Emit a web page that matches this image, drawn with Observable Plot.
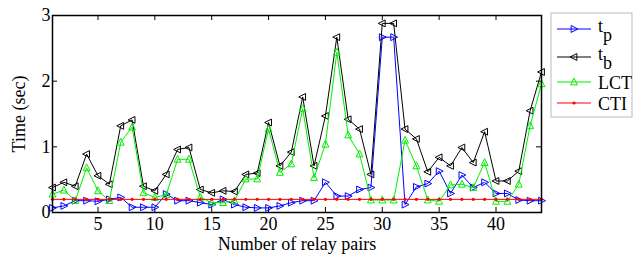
<!DOCTYPE html>
<html>
<head>
<meta charset="utf-8">
<script src="https://cdn.jsdelivr.net/npm/d3@7"></script>
<script src="https://cdn.jsdelivr.net/npm/@observablehq/plot@0.6"></script>
<style>
  html, body { margin: 0; padding: 0; background: #fff; }
  #wrap { position: relative; width: 642px; height: 257px; }
  #wrap svg { position: absolute; left: 0; top: 0; }
  #wrap svg, #wrap svg text { font-family: "Liberation Serif", "DejaVu Serif", serif !important; }
</style>
</head>
<body>
<div id="wrap"></div>
<script>
// ---- data ----
const relayPairs = d3.range(1, 45);
const tp = [0.07,0.10,0.18,0.18,0.17,0.20,0.23,0.08,0.08,0.08,0.28,0.18,0.18,0.15,0.12,0.20,0.12,0.08,0.07,0.07,0.10,0.15,0.18,0.18,0.46,0.25,0.25,0.35,0.38,2.67,2.67,0.12,0.39,0.44,0.63,0.29,0.57,0.38,0.46,0.29,0.29,0.19,0.18,0.18];
const tb = [0.38,0.46,0.40,0.89,0.56,0.43,1.32,1.41,0.40,0.33,0.58,0.96,0.99,0.35,0.30,0.33,0.32,0.58,0.60,1.37,0.71,0.92,1.76,0.71,1.47,2.67,1.42,1.27,0.58,2.88,2.88,1.27,1.12,0.62,0.84,0.71,0.99,0.76,1.23,0.48,0.48,0.63,1.55,2.14];
const lct = [0.28,0.34,0.18,0.68,0.33,0.18,1.07,1.30,0.30,0.23,0.27,0.81,0.81,0.23,0.15,0.15,0.18,0.51,0.51,1.27,0.61,0.74,1.58,0.53,1.04,2.44,1.18,0.89,0.19,0.19,0.19,1.10,0.71,0.19,0.17,0.42,0.43,0.38,0.76,0.17,0.17,0.43,1.32,1.96];
const cti = relayPairs.map(() => 0.2);
const xTicks = [5,10,15,20,25,30,35,40];
const yTicks = [0,1,2,3];
const seriesNames = ["tp","tb","LCT","CTI"];
const seriesColors = ["#0000ff","#000000","#00ee00","#ff0000"];

// custom triangle symbols
const triRight = {draw(ctx, size){ const r = Math.sqrt(size/Math.PI); ctx.moveTo(r*1.1,0); ctx.lineTo(-r*0.8,-r*0.95); ctx.lineTo(-r*0.8,r*0.95); ctx.closePath(); }};
const triLeft  = {draw(ctx, size){ const r = Math.sqrt(size/Math.PI); ctx.moveTo(-r*1.1,0); ctx.lineTo(r*0.8,-r*0.95); ctx.lineTo(r*0.8,r*0.95); ctx.closePath(); }};
const triUp    = {draw(ctx, size){ const r = Math.sqrt(size/Math.PI); ctx.moveTo(0,-r*1.1); ctx.lineTo(-r*0.95,r*0.8); ctx.lineTo(r*0.95,r*0.8); ctx.closePath(); }};

const rows = (vals) => relayPairs.map((x,i) => ({x, y: vals[i]}));
const W = 642, H = 257, mL = 52, mR = 101, mT = 15, mB = 45;
const innerW = W - mL - mR, innerH = H - mT - mB;
const font = "Liberation Serif";

const chart = Plot.plot({
  width: W, height: H,
  marginLeft: mL, marginRight: mR, marginTop: mT, marginBottom: mB,
  style: {fontFamily: font, fontSize: "17px", color: "#000", background: "transparent"},
  x: {domain: [1,44]},
  y: {domain: [0,3]},
  marks: [
    Plot.axisX({ticks: xTicks, tickSize: 0, tickPadding: 5, fontSize: 18, fontFamily: font, tickFormat: d3.format("d"),
      label: "Number of relay pairs", labelAnchor: "center", labelOffset: 37, labelArrow: "none"}),
    Plot.axisY({ticks: yTicks, tickSize: 0, tickPadding: 2, fontSize: 18, fontFamily: font, tickFormat: d3.format("d"),
      label: "Time (sec)", labelAnchor: "center", labelOffset: 40, labelArrow: "none"}),
    Plot.tickX(xTicks, {x: d => d, insetTop: innerH - 5, stroke: "#000"}),
    Plot.tickX(xTicks, {x: d => d, insetBottom: innerH - 5, stroke: "#000"}),
    Plot.tickY(yTicks, {y: d => d, insetRight: innerW - 5, stroke: "#000"}),
    Plot.tickY(yTicks, {y: d => d, insetLeft: innerW - 5, stroke: "#000"}),
    Plot.line(rows(tp), {x: "x", y: "y", stroke: seriesColors[0], strokeWidth: 1}),
    Plot.dot(rows(tp), {x: "x", y: "y", symbol: triRight, r: 3.6, stroke: seriesColors[0], fill: "none", strokeWidth: 1}),
    Plot.line(rows(tb), {x: "x", y: "y", stroke: seriesColors[1], strokeWidth: 1}),
    Plot.dot(rows(tb), {x: "x", y: "y", symbol: triLeft, r: 3.6, stroke: seriesColors[1], fill: "none", strokeWidth: 1}),
    Plot.line(rows(lct), {x: "x", y: "y", stroke: seriesColors[2], strokeWidth: 1}),
    Plot.dot(rows(lct), {x: "x", y: "y", symbol: triUp, r: 3.6, stroke: seriesColors[2], fill: "none", strokeWidth: 1}),
    Plot.line(rows(cti), {x: "x", y: "y", stroke: seriesColors[3], strokeWidth: 1}),
    Plot.dot(rows(cti), {x: "x", y: "y", r: 1.6, fill: seriesColors[3]}),
    Plot.frame({stroke: "#000", strokeWidth: 1.5})
  ]
});
document.getElementById("wrap").appendChild(chart);

// ---- legend (overlay svg) ----
const lg = d3.select("#wrap").append("svg").attr("width", W).attr("height", H)
  .style("pointer-events", "none");
lg.append("rect").attr("x", 551).attr("y", 13).attr("width", 81).attr("height", 104)
  .attr("fill", "#fff").attr("stroke", "#bbb").attr("stroke-width", 1);
const legendY = [29, 57, 82, 103];
const syms = [triRight, triLeft, triUp, null];
seriesNames.forEach((name, i) => {
  const g = lg.append("g");
  g.append("line").attr("x1", 557).attr("x2", 591).attr("y1", legendY[i]).attr("y2", legendY[i])
    .attr("stroke", seriesColors[i]).attr("stroke-width", 1);
  if (syms[i]) {
    g.append("path").attr("d", d3.symbol(syms[i], 3.6*3.6*Math.PI)())
      .attr("transform", `translate(574,${legendY[i]})`).attr("fill", "none").attr("stroke", seriesColors[i]);
  } else {
    g.append("circle").attr("cx", 574).attr("cy", legendY[i]).attr("r", 1.6).attr("fill", seriesColors[i]);
  }
  const t = g.append("text").attr("x", 598).attr("font-size", 18).attr("font-family", font).attr("fill", "#000");
  if (name.startsWith("t")) {
    t.attr("y", legendY[i] + 3);
    t.append("tspan").text("t");
    t.append("tspan").attr("dy", 9).text(name.slice(1));
  } else {
    t.attr("y", legendY[i] + 7).text(name);
  }
});
</script>
</body>
</html>
